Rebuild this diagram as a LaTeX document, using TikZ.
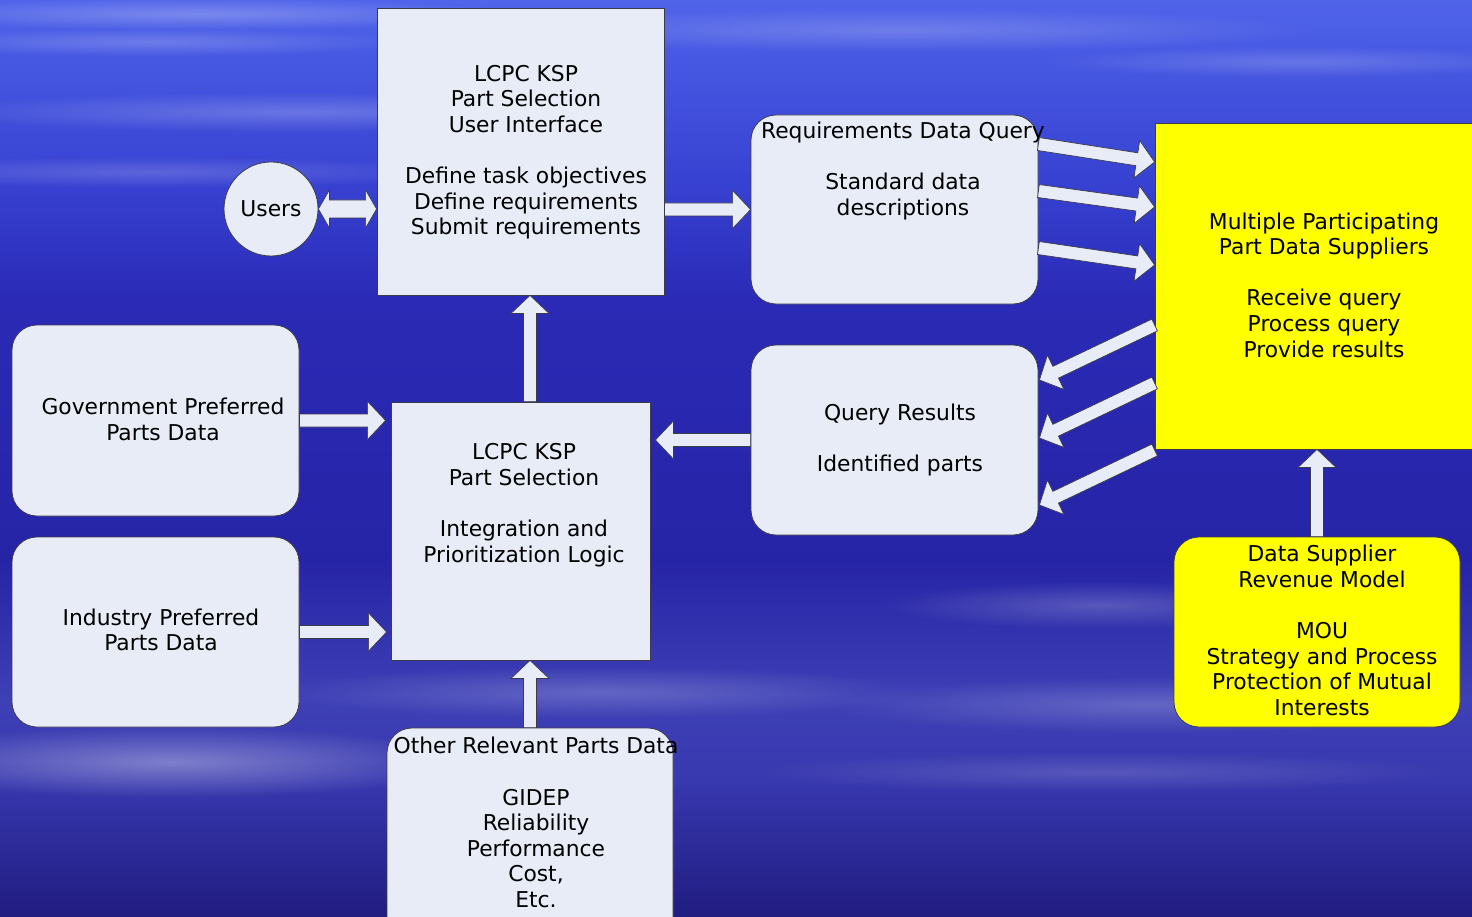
\documentclass[tikz,border=0pt]{standalone}
\usepackage{fontspec}
\setmainfont{DejaVu Sans}
\usetikzlibrary{calc,fadings}

\definecolor{boxfill}{RGB}{231,236,247}
\definecolor{boxline}{RGB}{60,60,72}
\definecolor{supyellow}{RGB}{255,255,0}
\definecolor{sky0}{RGB}{80,100,234}
\definecolor{sky1}{RGB}{70,88,226}
\definecolor{sky2}{RGB}{56,66,210}
\definecolor{sky3}{RGB}{42,42,182}
\definecolor{sky4}{RGB}{38,36,166}
\definecolor{sky5}{RGB}{62,64,182}
\definecolor{sky6}{RGB}{56,56,175}
\definecolor{sky7}{RGB}{32,28,128}

\tikzfading[name=streak, inner color=transparent!0, outer color=transparent!100]

\tikzset{
    box/.style={draw=boxline, line width=0.8pt, fill=boxfill, minimum width=287pt, minimum height=190pt, inner sep=0pt},
    rbox/.style={box, rounded corners=25pt},
    txt/.style={font=\fontsize{21.8}{25.6}\selectfont, align=center, inner sep=0pt, text=black},
    blockarrow/.style={draw=boxline, line width=0.7pt, fill=boxfill, line join=miter},
    cloud/.style={white, path fading=streak},
}

\newcommand{\blockarrow}[2]{%
    \coordinate (bh) at ($(#2)!18pt!(#1)$);
    \draw[blockarrow] ($(#1)!6.5pt!90:(#2)$) -- ($(bh)!6.5pt!90:(#2)$)
        -- ($(bh)!19pt!90:(#2)$) -- (#2) -- ($(bh)!19pt!-90:(#2)$)
        -- ($(bh)!6.5pt!-90:(#2)$) -- ($(#1)!6.5pt!-90:(#2)$) -- cycle;
}
\newcommand{\dblarrow}[2]{%
    \coordinate (ha) at ($(#1)!11pt!(#2)$);
    \coordinate (hb) at ($(#2)!11pt!(#1)$);
    \draw[blockarrow] (#1) -- ($(ha)!19pt!90:(#2)$) -- ($(ha)!9pt!90:(#2)$)
        -- ($(hb)!9pt!90:(#2)$) -- ($(hb)!19pt!90:(#2)$) -- (#2)
        -- ($(hb)!19pt!-90:(#2)$) -- ($(hb)!9pt!-90:(#2)$)
        -- ($(ha)!9pt!-90:(#2)$) -- ($(ha)!19pt!-90:(#2)$) -- cycle;
}

\begin{document}
\begin{tikzpicture}[x=1pt, y=-1pt]
    \useasboundingbox (0,0) rectangle (1472,917);
    \clip (0,0) rectangle (1472,917);

    \fill[top color=sky0, bottom color=sky1] (0,0) rectangle (1472,60);
    \fill[top color=sky1, bottom color=sky2] (0,60) rectangle (1472,180);
    \fill[top color=sky2, bottom color=sky3] (0,180) rectangle (1472,300);
    \fill[top color=sky3, bottom color=sky4] (0,300) rectangle (1472,560);
    \fill[top color=sky4, bottom color=sky5] (0,560) rectangle (1472,700);
    \fill[top color=sky5, bottom color=sky6] (0,700) rectangle (1472,780);
    \fill[top color=sky6, bottom color=sky7] (0,780) rectangle (1472,917);

    \fill[cloud, opacity=0.25] (200,14) ellipse (320pt and 16pt);
    \fill[cloud, opacity=0.2] (150,42) ellipse (260pt and 14pt);
    \fill[cloud, opacity=0.22] (300,112) ellipse (380pt and 20pt);
    \fill[cloud, opacity=0.18] (150,172) ellipse (320pt and 16pt);
    \fill[cloud, opacity=0.2] (900,30) ellipse (420pt and 22pt);
    \fill[cloud, opacity=0.18] (1300,62) ellipse (260pt and 16pt);
    \fill[cloud, opacity=0.35] (170,762) ellipse (300pt and 36pt);
    \fill[cloud, opacity=0.2] (600,692) ellipse (320pt and 26pt);
    \fill[cloud, opacity=0.2] (1100,605) ellipse (220pt and 24pt);
    \fill[cloud, opacity=0.2] (1150,705) ellipse (320pt and 28pt);
    \fill[cloud, opacity=0.15] (1100,772) ellipse (360pt and 20pt);

    \node[box, minimum height=287pt] (ui) at (520.5,151.5) {};
    \node[circle, draw=boxline, fill=boxfill, line width=0.8pt, minimum size=94pt, txt] (users) at (271,209) {Users};
    \node[rbox, minimum height=189pt] (req) at (894.5,209.5) {};
    \node[box, fill=supyellow, minimum width=330pt, minimum height=326pt] (sup) at (1320,286) {};
    \node[rbox] (qres) at (894.5,440) {};
    \node[box, minimum width=259pt, minimum height=258pt] (integ) at (520.5,531) {};
    \node[rbox, minimum height=191pt] (gov) at (155.5,420.5) {};
    \node[rbox] (ind) at (155.5,632) {};
    \node[rbox, minimum width=286pt, minimum height=230pt] (oth) at (530,843) {};
    \node[rbox, fill=supyellow, minimum width=286pt] (model) at (1317,632) {};

    \node[txt] (ui-t) at (526,152) {LCPC KSP\\Part Selection\\User Interface\\ \\Define task objectives\\Define requirements\\Submit requirements};
    \node[txt] (req-t) at (903,171) {Requirements Data Query\\ \\Standard data\\descriptions};
    \node[txt] (sup-t) at (1324,285) {Multiple Participating\\Part Data Suppliers\\ \\Receive query\\Process query\\Provide results};
    \node[txt] (qres-t) at (900,440) {Query Results\\ \\Identified parts};
    \node[txt] (integ-t) at (524,505) {LCPC KSP\\Part Selection\\ \\Integration and\\Prioritization Logic};
    \node[txt] (gov-t) at (163,419.5) {Government Preferred\\Parts Data};
    \node[txt] (ind-t) at (161,630) {Industry Preferred\\Parts Data};
    \node[txt] (oth-t) at (536,822.5) {Other Relevant Parts Data\\ \\GIDEP\\Reliability\\Performance\\Cost,\\Etc.};
    \node[txt] (model-t) at (1322,630.5) {Data Supplier\\Revenue Model\\ \\MOU\\Strategy and Process\\Protection of Mutual\\Interests};

    \coordinate (ui-in) at (users.east -| ui.west);
    \dblarrow{users.east}{ui-in}
    \coordinate (ui-out) at (req.west -| ui.east);
    \blockarrow{ui-out}{req.west}
    \foreach \s/\e [count=\i] in {-65.5/-124, -18.5/-79, 38.5/-21}{
        \coordinate (q\i) at ($(req.east)+(0,\s)$);
        \coordinate (p\i) at ($(sup.west)+(0,\e)$);
        \blockarrow{q\i}{p\i}
    }
    \foreach \s/\e [count=\i] in {39/-60, 97/-2, 164/65}{
        \coordinate (r\i) at ($(sup.west)+(0,\s)$);
        \coordinate (t\i) at ($(qres.east)+(1,\e)$);
        \blockarrow{r\i}{t\i}
    }
    \coordinate (q-in) at ($(qres.west -| integ.east)+(5,0)$);
    \blockarrow{qres.west}{q-in}
    \coordinate (i-up) at ($(integ.north)+(9.5,0)$);
    \coordinate (ui-dn) at (i-up |- ui.south);
    \blockarrow{i-up}{ui-dn}
    \coordinate (o-in) at (oth.north |- integ.south);
    \blockarrow{oth.north}{o-in}
    \coordinate (g-in) at ($(gov.east -| integ.west)+(-5,0)$);
    \blockarrow{gov.east}{g-in}
    \coordinate (n-in) at ($(ind.east -| integ.west)+(-4,0)$);
    \blockarrow{ind.east}{n-in}
    \coordinate (m-up) at (model.north |- sup.south);
    \blockarrow{model.north}{m-up}
\end{tikzpicture}
\end{document}
